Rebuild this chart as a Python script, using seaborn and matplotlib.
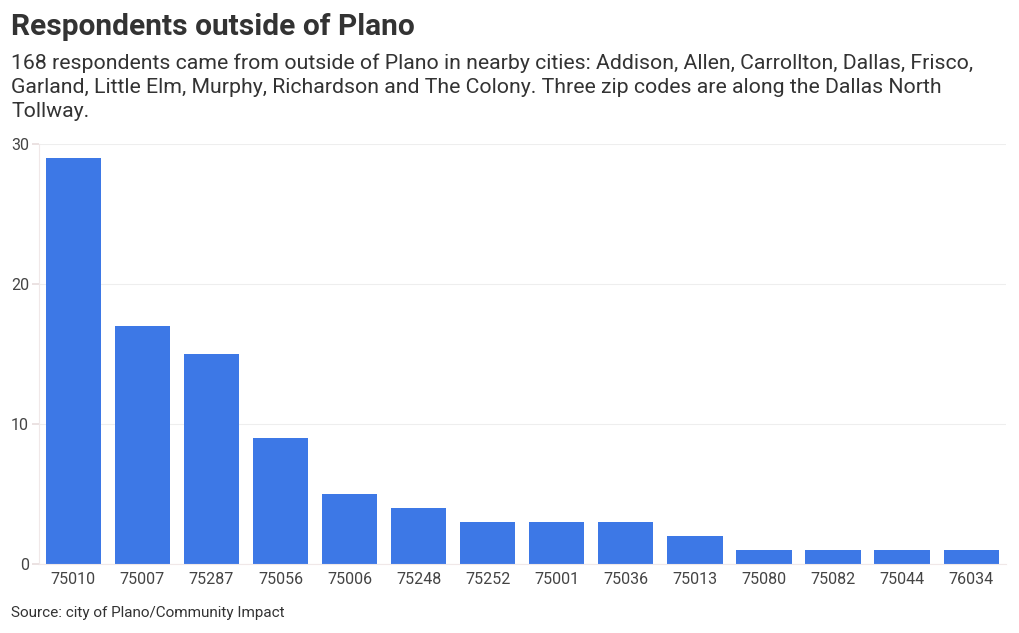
import matplotlib
matplotlib.use("Agg")
import matplotlib.pyplot as plt
import seaborn as sns
import pandas as pd

zip_codes = ["75010", "75007", "75287", "75056", "75006", "75248", "75252",
             "75001", "75036", "75013", "75080", "75082", "75044", "76034"]
respondents = [29, 17, 15, 9, 5, 4, 3, 3, 3, 2, 1, 1, 1, 1]
y_ticks = [0, 10, 20, 30]

title = "Respondents outside of Plano"
subtitle = ("168 respondents came from outside of Plano in nearby cities: Addison, Allen, Carrollton, Dallas, Frisco,\n"
            "Garland, Little Elm, Murphy, Richardson and The Colony. Three zip codes are along the Dallas North\n"
            "Tollway.")
source = "Source: city of Plano/Community Impact"

sns.set_theme(style="white")
plt.rcParams['font.family'] = ['Roboto', 'DejaVu Sans']

df = pd.DataFrame({"zip": zip_codes, "n": respondents})

fig = plt.figure(figsize=(10.2, 6.33), dpi=100)
ax = fig.add_axes([0.038, 0.109, 0.948, 0.6635])
sns.barplot(data=df, x="zip", y="n", color="#3d78e6", saturation=1, width=0.8,
            linewidth=0, ax=ax, zorder=2)

ax.set_ylim(0, 30)
ax.set_xlim(-0.5, len(zip_codes) - 0.5)
ax.set_yticks(y_ticks)
ax.set_xlabel("")
ax.set_ylabel("")
ax.yaxis.grid(True, color="#eeeeee", linewidth=0.8, zorder=0)
for s in ["top", "right"]:
    ax.spines[s].set_visible(False)
ax.spines["left"].set_color("#f0e8e8")
ax.spines["bottom"].set_color("#f0e8e8")
ax.spines["left"].set_linewidth(0.8)
ax.spines["bottom"].set_linewidth(0.8)
ax.tick_params(axis="y", length=5, color="#e8dede", labelsize=11.5, labelcolor="#444444", pad=2, left=True)
ax.tick_params(axis="x", length=0, labelsize=11.5, labelcolor="#444444", pad=6)

fig.text(0.011, 0.957, title, fontsize=21.5, fontweight="bold", color="#333333", va="center", ha="left")
fig.text(0.011, 0.862, subtitle, fontsize=15.3, color="#333333", va="center", ha="left", linespacing=1.32)
fig.text(0.011, 0.031, source, fontsize=11, color="#333333", va="center", ha="left")

fig.savefig("out.png", dpi=100)
